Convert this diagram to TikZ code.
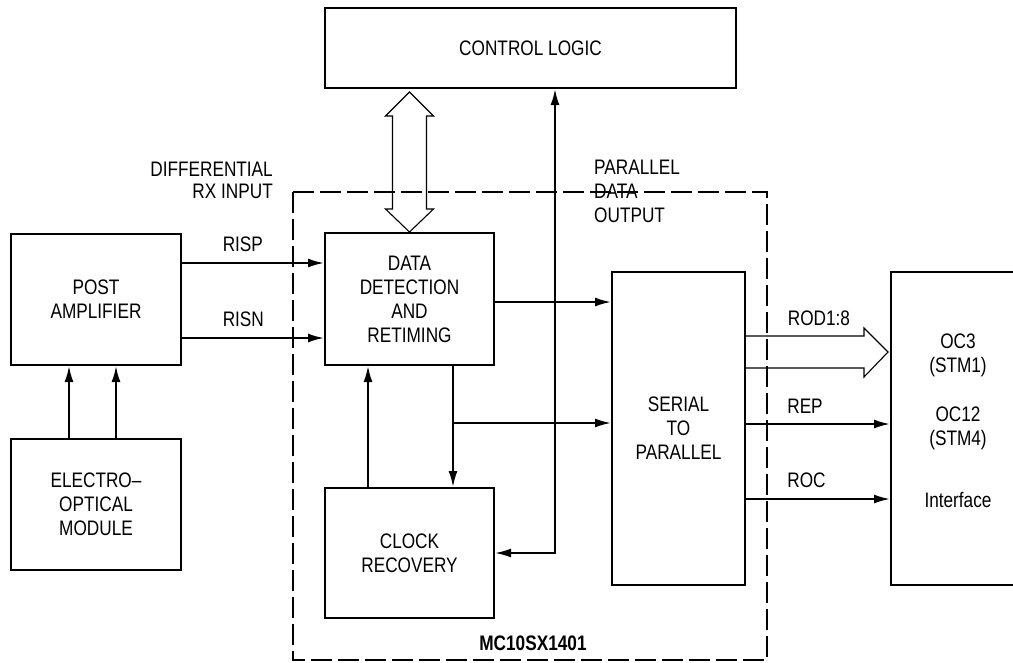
\documentclass[tikz,border=0pt]{standalone}
\usepackage{fontspec}
\setmainfont[FakeStretch=0.82]{Liberation Sans}
\usetikzlibrary{arrows.meta}
\tikzset{
    >={Latex[length=16pt,width=9pt]},
    blk/.style={draw, line width=2pt, align=center, inner sep=0pt},
    sig/.style={line width=2pt, ->},
    siglbl/.style={inner sep=0pt, pos=0.28, anchor=south west, yshift=10pt},
    hollow/.style={line width=1.1pt, line join=miter},
    chip/.style={line width=2pt, dash pattern=on 21pt off 6pt},
    lbl/.style={inner sep=0pt},
}

\begin{document}
\begin{tikzpicture}[x=1pt, y=-1pt, font=\fontsize{21pt}{24pt}\selectfont]
    \useasboundingbox (0,0) rectangle (1013,662);
    %chip outline
    \draw[chip] (293,192) rectangle (767,660);
    \node[lbl, font=\fontsize{21pt}{24pt}\selectfont\bfseries] (chipname) at (533,643) {MC10SX1401};
    %blocks
    \node[blk, minimum width=411pt, minimum height=80pt] (ctrl) at (530.5,48) {CONTROL LOGIC};
    \node[blk, minimum width=170pt, minimum height=131pt] (post) at (96,299.5) {POST\\AMPLIFIER};
    \node[blk, minimum width=170pt, minimum height=131pt] (eo) at (96,504.5) {ELECTRO--\\OPTICAL\\MODULE};
    \node[blk, minimum width=169pt, minimum height=132pt] (ddr) at (409.5,299) {DATA\\DETECTION\\AND\\RETIMING};
    \node[blk, minimum width=169pt, minimum height=130pt] (clk) at (409.5,553) {CLOCK\\RECOVERY};
    \node[blk, minimum width=133pt, minimum height=313pt] (s2p) at (678.5,428.5) {SERIAL\\TO\\PARALLEL};
    \node[blk, minimum width=134pt, minimum height=313pt] (intf) at (958,428.5) {};
    \node[lbl, align=center] (intftxt) at (958,421) {OC3\\(STM1)\\[25pt]OC12\\(STM4)\\[38pt]Interface};
    %side labels
    \node[lbl, align=right, anchor=east, font=\fontsize{21pt}{22pt}\selectfont] (rxin) at (273,180.5) {DIFFERENTIAL\\RX INPUT};
    \node[lbl, align=left, anchor=west] (pdout) at (594,191.5) {PARALLEL\\DATA\\OUTPUT};
    %inputs
    \coordinate (e1) at ([xshift=-27pt]eo.north);
    \coordinate (e2) at ([xshift=20pt]eo.north);
    \draw[sig] (e1) -- (e1 |- post.south);
    \draw[sig] (e2) -- (e2 |- post.south);
    \coordinate (risp) at ([yshift=36.5pt]post.east);
    \coordinate (risn) at ([yshift=-38.5pt]post.east);
    \draw[sig] (risp) -- node[siglbl] (rispl) {RISP} (risp -| ddr.west);
    \draw[sig] (risn) -- node[siglbl] (risnl) {RISN} (risn -| ddr.west);
    %bus to control logic
    \draw[hollow] (ddr.north) -- ++(24,-23) -- ++(-7,0) -- ++(0,-93) -- ++(7,0)
        -- ++(-24,-24) -- ++(-24,24) -- ++(7,0) -- ++(0,93) -- ++(-7,0) -- cycle;
    \coordinate (cl) at ([xshift=24.5pt]ctrl.south);
    \draw[sig, <->] (clk.east) -| (cl);
    %data and clock paths
    \coordinate (d2s) at ([yshift=-3pt]ddr.east);
    \draw[sig] (d2s) -- (d2s -| s2p.west);
    \coordinate (dv) at ([xshift=43.5pt]ddr.south);
    \draw[sig] (dv) -- (dv |- clk.north);
    \coordinate (br) at ([yshift=-57pt]dv);
    \draw[sig] (br) -- (br -| s2p.west);
    \coordinate (cu) at ([xshift=-41.5pt]clk.north);
    \draw[sig] (cu) -- (cu |- ddr.south);
    %outputs
    \draw[hollow] ([yshift=92.5pt]s2p.east) -- node[siglbl, pos=0.35] (rodl) {ROD1:8} ++(118,0)
        -- ++(0,-8) -- ++(24,24) -- ++(-24,25) -- ++(0,-9) -- ++(-118,0);
    \coordinate (rep) at ([yshift=4.5pt]s2p.east);
    \coordinate (roc) at ([yshift=-70.5pt]s2p.east);
    \draw[sig] (rep) -- node[siglbl] (repl) {REP} (rep -| intf.west);
    \draw[sig] (roc) -- node[siglbl] (rocl) {ROC} (roc -| intf.west);
\end{tikzpicture}
\end{document}
